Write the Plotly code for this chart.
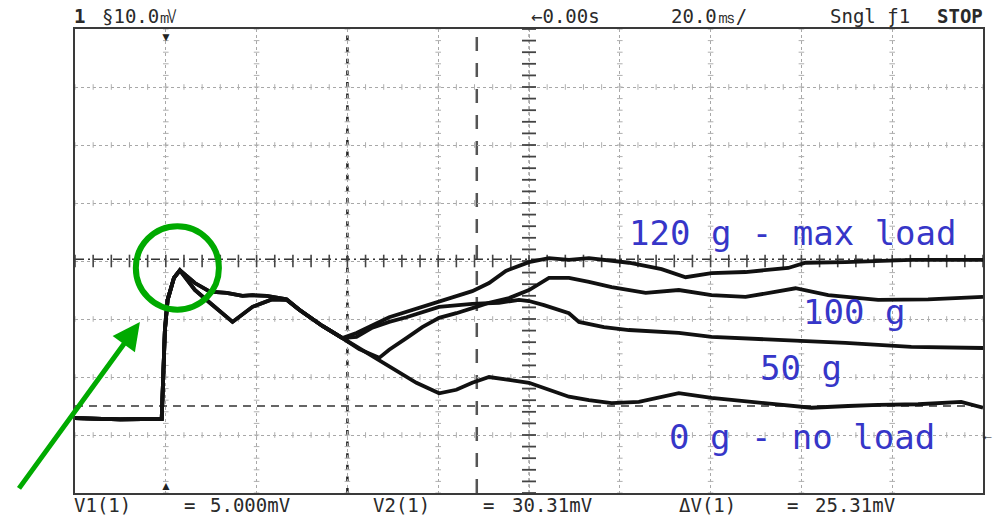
import numpy as np
import plotly.graph_objects as go

# ---- data: time in ms (20 ms/div, 0 at centre), amplitude in mV (10 mV/div)
t_start = [-100, -90, -80.9, -80.2, -79.6, -78.2, -76.9]
v_start = [2.9, 2.7, 2.8, 18.1, 23.3, 27.1, 28.4]

t_plateau = [-73.6, -70.3, -66.6, -63.1, -60.9, -57.8, -56.5, -53.4, -50.6, -45.5, -41.1]
v_plateau = [26.2, 24.7, 24.5, 24.0, 24.1, 24.0, 23.8, 23.4, 21.6, 18.8, 16.7]

t_dip = [-73.6, -70.3, -65.3, -60.9, -56.5, -53.4, -50.6, -45.5, -41.1]
v_dip = [25.0, 22.8, 19.5, 22.1, 23.4, 23.3, 21.6, 18.8, 16.7]

t_120 = [-38.0, -30.8, -19.8, -12.5, -8.8, -5.1, 0, 4.4, 8.8, 13.2, 22.0, 29.2,
         34.5, 40.2, 47.7, 57.1, 60.9, 69.7, 84.2, 100.0]
v_120 = [17.6, 20.3, 23.1, 24.8, 26.2, 28.3, 29.8, 30.5, 30.2, 30.5, 29.7, 28.6,
         27.2, 27.9, 28.1, 28.8, 29.7, 29.8, 30.2, 30.2]

t_100 = [-37.4, -33.0, -30.8, -27.0, -23.5, -19.8, -16.0, -11.6, -8.8, -4.4, 0, 4.4,
         8.8, 13.2, 18.2, 25.7, 33.0, 40.2, 47.7, 58.7, 65.9, 76.9, 87.9, 100.0]
v_100 = [14.8, 13.3, 14.7, 16.7, 18.6, 20.2, 21.0, 22.1, 22.8, 23.6, 25.0, 27.1,
         27.1, 26.4, 25.5, 24.5, 25.0, 24.1, 23.8, 25.3, 24.1, 23.3, 23.4, 23.8]

t_50 = [-38.0, -34.5, -30.8, -27.0, -19.8, -12.5, -6.6, -2.2, 0, 3.3, 8.8, 11.0,
        16.5, 22.0, 33.0, 40.2, 54.9, 69.7, 84.2, 100.0]
v_50 = [16.9, 18.5, 19.5, 20.3, 22.1, 22.6, 22.8, 23.3, 23.1, 22.4, 21.0, 19.5,
        18.6, 18.1, 17.6, 16.9, 16.4, 15.9, 15.2, 15.0]

t_0 = [-38.0, -34.5, -29.7, -24.8, -19.8, -16.0, -12.5, -8.8, -4.4, 0, 4.4, 8.8,
       13.2, 18.2, 24.2, 29.2, 33.0, 40.2, 51.2, 62.2, 70.3, 76.9, 85.7, 95.2, 100.0]
v_0 = [15.2, 13.5, 11.2, 9.0, 7.2, 7.8, 9.0, 10.0, 9.5, 9.0, 7.8, 6.6,
       6.0, 5.5, 5.7, 6.6, 7.2, 6.4, 5.5, 4.7, 5.0, 5.2, 5.3, 5.7, 4.7]

labels = ["120 g - max load", "100 g", "50 g", "0 g - no load"]
label_t = [21.5, 60.0, 50.5, 30.3]
label_v = [34.8, 21.2, 11.6, -0.3]

v1_mv = 5.000
v2_mv = 30.31
cursor_t = [-40.0, -11.5]
trigger_t = -80.0

# ---- figure
X_RANGE = [-100, 100]
Y_RANGE = [-10, 70]
fig = go.Figure()

# grid sub-division ticks
grid_x = np.arange(-80, 81, 20)
grid_y = np.arange(0, 61, 10)
sub_y = np.arange(-10, 70.01, 2)
sub_x = np.arange(-100, 100.01, 4)
gx, gy = [], []
for gxv in grid_x:
    if gxv == 0:
        continue
    gx += [gxv] * len(sub_y)
    gy += list(sub_y)
fig.add_trace(go.Scatter(x=gx, y=gy, mode="markers", hoverinfo="skip",
                         marker=dict(symbol="line-ew", size=4, color="#b0b0b0",
                                     line=dict(width=1, color="#b0b0b0"))))
hx, hy = [], []
for gyv in grid_y:
    if gyv == 30:
        continue
    hx += list(sub_x)
    hy += [gyv] * len(sub_x)
fig.add_trace(go.Scatter(x=hx, y=hy, mode="markers", hoverinfo="skip",
                         marker=dict(symbol="line-ns", size=4, color="#b0b0b0",
                                     line=dict(width=1, color="#b0b0b0"))))
# centre axes ticks
fig.add_trace(go.Scatter(x=[0] * len(sub_y), y=sub_y, mode="markers", hoverinfo="skip",
                         marker=dict(symbol="line-ew", size=10,
                                     line=dict(width=1.8, color="#444"))))
fig.add_trace(go.Scatter(x=sub_x, y=[30] * len(sub_x), mode="markers", hoverinfo="skip",
                         marker=dict(symbol="line-ns", size=9,
                                     line=dict(width=1.6, color="#444"))))

series = [
    (t_start + t_plateau + t_120, v_start + v_plateau + v_120),
    (t_start + t_plateau + t_100, v_start + v_plateau + v_100),
    (t_start + t_dip + t_50, v_start + v_dip + v_50),
    (t_start + t_dip + t_0, v_start + v_dip + v_0),
]
for (tx, vy), name in zip(series, labels):
    fig.add_trace(go.Scatter(x=tx, y=vy, mode="lines", name=name,
                             line=dict(color="#111", width=3.8)))

shapes = [
    dict(type="line", xref="x", yref="paper", x0=0, x1=0, y0=0, y1=1,
         line=dict(color="#777", width=1, dash="dot"), layer="below"),
    dict(type="line", xref="x", yref="paper", x0=cursor_t[0], x1=cursor_t[0], y0=0, y1=1,
         line=dict(color="#222", width=2.5, dash="5px,6.6px"), layer="below"),
    dict(type="line", xref="x", yref="paper", x0=cursor_t[1], x1=cursor_t[1], y0=0, y1=1,
         line=dict(color="#555", width=2.5, dash="14px,12px"), layer="below"),
    dict(type="line", xref="paper", yref="y", x0=0, x1=1, y0=v1_mv, y1=v1_mv,
         line=dict(color="#333", width=1.6, dash="8px,6px"), layer="below"),
    dict(type="line", xref="paper", yref="y", x0=0, x1=1, y0=v2_mv, y1=v2_mv,
         line=dict(color="#333", width=1.6, dash="9px,4px,2px,4px"), layer="below"),
    dict(type="circle", xref="x", yref="y", x0=-86.6, x1=-68.3, y0=21.6, y1=36.0,
         line=dict(color="#00aa00", width=6)),
]

MONO = "DejaVu Sans Mono"
txt = dict(family=MONO, size=19, color="#2a2a2a")
ann = []
for s, tt, vv in zip(labels, label_t, label_v):
    ann.append(dict(x=tt, y=vv, xref="x", yref="y", text=s, showarrow=False,
                    xanchor="left", yanchor="middle",
                    font=dict(family=MONO, size=34, color="#3636c8")))


def px(t):
    """data time -> paper fraction (so texts at the very edge are not hidden)"""
    return (t - X_RANGE[0]) / (X_RANGE[1] - X_RANGE[0])


top = [("1", -100.6, True), ("§10.0㎷", -94.5, False), ("←0.00s", 0.0, False),
       ("20.0㎳/", 30.8, False), ("Sngl ƒ1", 65.9, False), ("STOP", 89.5, True)]
for s, tt, b in top:
    ann.append(dict(x=px(tt), y=1, xref="paper", yref="paper",
                    text=f"<b>{s}</b>" if b else s,
                    showarrow=False, xanchor="left", yanchor="bottom", yshift=0,
                    font=txt))

bottom = [("V1(1)", -100.6), ("=", -76.5), (f"{v1_mv:.3f}mV", -70.8),
          ("V2(1)", -34.7), ("=", -10.5), (f"{v2_mv:.2f}mV", -4.2),
          ("ΔV(1)", 32.7), ("=", 56.3), (f"{v2_mv - v1_mv:.2f}mV", 62.6)]
for s, tt in bottom:
    ann.append(dict(x=px(tt), y=0, xref="paper", yref="paper", text=s, showarrow=False,
                    xanchor="left", yanchor="top", yshift=1, font=txt))

# trigger markers
ann.append(dict(x=trigger_t, y=1, xref="x", yref="paper", text="▼", showarrow=False,
                yanchor="top", yshift=3, font=dict(size=12, color="#222")))
ann.append(dict(x=trigger_t, y=0, xref="x", yref="paper", text="▲", showarrow=False,
                yanchor="bottom", yshift=-3, font=dict(size=12, color="#222")))
# ground marker
ann.append(dict(x=1, y=0, xref="paper", yref="y", text="←", showarrow=False,
                xanchor="left", yanchor="middle", xshift=-4, font=dict(size=13, color="#222")))
# green arrow pointing at the rising edge
ann.append(dict(x=-85.7, y=19.5, xref="x", yref="y", text="", showarrow=True,
                ax=-122, ay=168, arrowhead=2, arrowsize=1.1, arrowwidth=5,
                arrowcolor="#00aa00", standoff=0))

fig.update_layout(
    width=997, height=517,
    margin=dict(l=75, r=12, t=29, b=24),
    paper_bgcolor="white", plot_bgcolor="white",
    showlegend=False,
    shapes=shapes, annotations=ann,
    xaxis=dict(range=X_RANGE, dtick=20, tick0=0, showticklabels=False, ticks="",
               showgrid=True, gridcolor="#a8a8a8", griddash="dot", gridwidth=1,
               zeroline=False, showline=True, mirror=True, linecolor="#3a3a3a",
               linewidth=2, fixedrange=True),
    yaxis=dict(range=Y_RANGE, dtick=10, tick0=0, showticklabels=False, ticks="",
               showgrid=True, gridcolor="#a8a8a8", griddash="dot", gridwidth=1,
               zeroline=False, showline=True, mirror=True, linecolor="#3a3a3a",
               linewidth=2, fixedrange=True),
)

fig.write_html("out.html", config={"displayModeBar": False},
               post_script="document.body.style.margin='0';document.body.style.overflow='hidden';")
